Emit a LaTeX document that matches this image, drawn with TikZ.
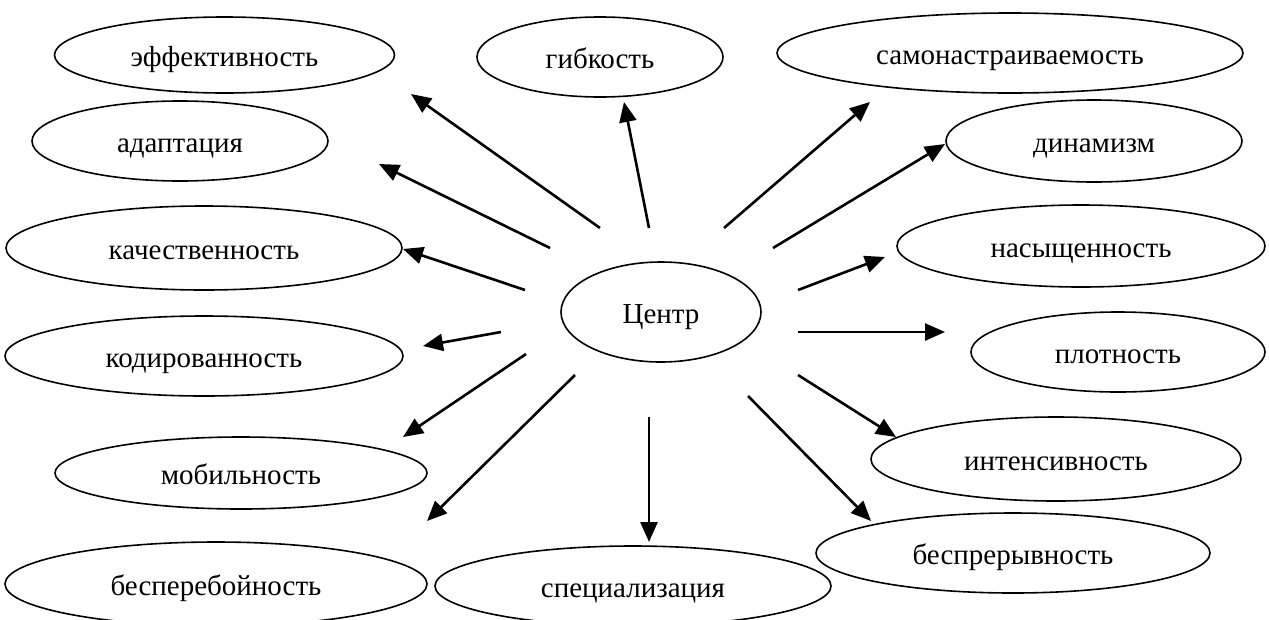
\documentclass[tikz,border=0pt]{standalone}
\usepackage{fontspec}
\setmainfont{Liberation Serif}
\usetikzlibrary{shapes.geometric,arrows.meta}
\begin{document}
\begin{tikzpicture}[x=1pt,y=-1pt,
  oval/.style={draw,ellipse,line width=1.6pt,inner sep=0pt,text height=22pt,text depth=0pt,font=\fontsize{29}{33}\selectfont},
  arr/.style={line width=2.6pt,-{Triangle[length=20pt,width=17pt]}}]
\useasboundingbox (0,0) rectangle (1269,619);
\node[oval,minimum width=340pt,minimum height=76pt] (eff) at (224.5,55) {эффективность};
\node[oval,minimum width=246pt,minimum height=80pt] (gib) at (600,57) {гибкость};
\node[oval,minimum width=466pt,minimum height=80pt] (sam) at (1010,53) {самонастраиваемость};
\node[oval,minimum width=296pt,minimum height=80pt] (ada) at (180,141) {адаптация};
\node[oval,minimum width=296pt,minimum height=82pt] (din) at (1094,141) {динамизм};
\node[oval,minimum width=396pt,minimum height=84pt] (kach) at (204,248) {качественность};
\node[oval,minimum width=368pt,minimum height=82pt] (nas) at (1081,246) {насыщенность};
\node[oval,minimum width=200pt,minimum height=100pt] (cen) at (661,312) {Центр};
\node[oval,minimum width=398pt,minimum height=80pt] (kod) at (204,356) {кодированность};
\node[oval,minimum width=294pt,minimum height=80pt] (plot) at (1118,352) {плотность};
\node[oval,minimum width=372pt,minimum height=72pt] (mob) at (241,473) {мобильность};
\node[oval,minimum width=370pt,minimum height=84pt] (int) at (1056,459) {интенсивность};
\node[oval,minimum width=422pt,minimum height=84pt] (besp) at (216,584) {бесперебойность};
\node[oval,minimum width=396pt,minimum height=80pt] (spec) at (633,586) {специализация};
\node[oval,minimum width=394pt,minimum height=80pt] (bespr) at (1013,553) {беспрерывность};
% arrow start and end points
\coordinate (s1) at (600,228); \coordinate (e1) at (411,94);
\coordinate (s2) at (649,228); \coordinate (e2) at (624,102);
\coordinate (s3) at (724,228); \coordinate (e3) at (870,102);
\coordinate (s4) at (550,248); \coordinate (e4) at (379,164);
\coordinate (s5) at (773,248); \coordinate (e5) at (945,144);
\coordinate (s6) at (525,290); \coordinate (e6) at (403,249);
\coordinate (s7) at (798,290); \coordinate (e7) at (885,257);
\coordinate (s8) at (501,332); \coordinate (e8) at (423,346);
\coordinate (s9) at (798,332); \coordinate (e9) at (945,332);
\coordinate (s10) at (526,354); \coordinate (e10) at (403,437);
\coordinate (s11) at (798,375); \coordinate (e11) at (896,437);
\coordinate (s12) at (575,375); \coordinate (e12) at (427,521);
\coordinate (s13) at (649,417); \coordinate (e13) at (649,542);
\coordinate (s14) at (748,396); \coordinate (e14) at (871,521);
\foreach \i in {1,...,14} {\draw[arr] (s\i) -- (e\i);}
\end{tikzpicture}
\end{document}
